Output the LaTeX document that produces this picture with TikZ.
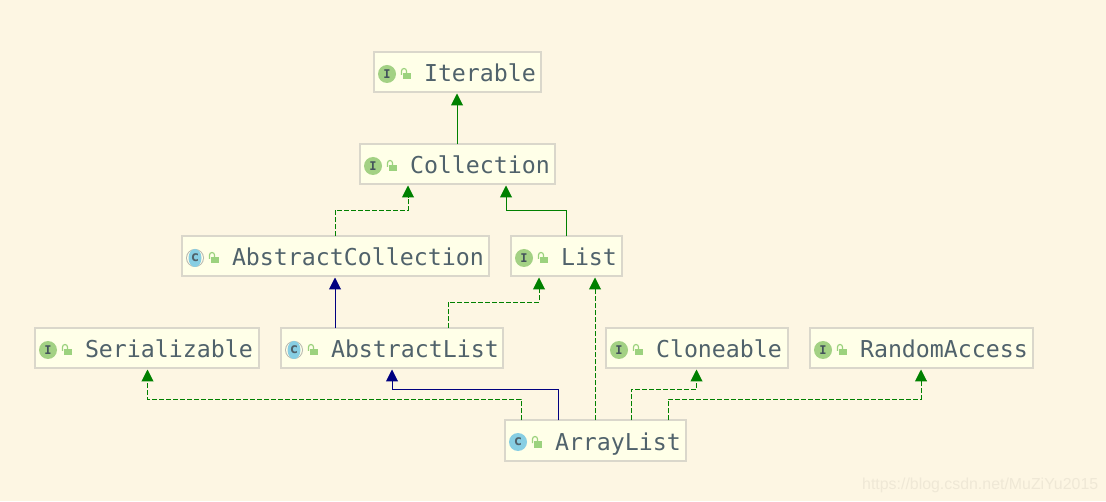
\documentclass[tikz,border=0pt]{standalone}
\usepackage{fontspec}
\setmonofont{DejaVu Sans Mono}
\setsansfont{Liberation Sans}
\usetikzlibrary{arrows.meta}
\definecolor{bgc}{HTML}{FDF6E3}
\definecolor{boxfill}{HTML}{FFFFE8}
\definecolor{boxline}{HTML}{DAD7CB}
\definecolor{txt}{HTML}{50626B}
\definecolor{igreen}{HTML}{A3D184}
\definecolor{lockg}{HTML}{9CD27E}
\definecolor{ccyan}{HTML}{87CEE3}
\definecolor{cgray}{HTML}{B8B8B0}
\definecolor{ared}{HTML}{008000}
\definecolor{anavy}{HTML}{000080}
\definecolor{wmark}{HTML}{EFE8D6}
\tikzset{
  x=1pt,y=1pt,
  umlbox/.style={draw=boxline,fill=boxfill,line width=2pt,inner sep=0pt,outer sep=0pt,minimum height=40pt},
  umltext/.style={anchor=base west,inner sep=0pt,text=txt,font=\ttfamily\fontsize{23.25}{24}\selectfont},
  icontext/.style={inner sep=0pt,text=txt!85!black,font=\ttfamily\bfseries\fontsize{12}{13}\selectfont},
  iconc/.style={inner sep=0pt,text=txt,font=\ttfamily\bfseries\fontsize{14}{15}\selectfont},
  tip/.style={-{Triangle[length=12pt,width=12pt]},shorten >=1pt},
  implline/.style={tip,color=ared,line width=1pt,dash pattern=on 5pt off 2pt},
  extline/.style={tip,color=ared,line width=1pt},
  classline/.style={tip,color=anavy,line width=1pt},
  darkline/.style={tip,color=ared,line width=1pt},
}
% name, left, top, right, kind (I/C/A), text  (y given from the top of the image)
\newcommand{\lockicon}[2]{%
  \fill[lockg] (#1+30,501-#2-21) rectangle (#1+38,501-#2-27.5);
  \draw[lockg,line width=1.2pt] (#1+28.5,501-#2-23) -- (#1+28.5,501-#2-19) arc[start angle=180,end angle=0,radius=2.5] -- (#1+33.5,501-#2-21);
}
\newcommand{\umlitem}[6]{%
  \node[umlbox,minimum width={(#4-#2-1)*1pt}] (#1) at ({(#2+#4)/2},{501-#3-20.5}) {};
  \ifx#5A
    \fill[cgray] (#2+14,501-#3-22) circle[radius=9];
    \fill[boxfill] (#2+14,501-#3-22) circle[radius=8];
    \fill[ccyan] (#2+14,501-#3-22) ellipse[x radius=6.5,y radius=9];
    \node[iconc] (#1icon) at (#2+14,501-#3-21.5) {c};
  \else\ifx#5C
    \fill[ccyan] (#2+14,501-#3-22) circle[radius=9];
    \node[iconc] (#1icon) at (#2+14,501-#3-21.5) {c};
  \else
    \fill[igreen] (#2+14,501-#3-22) circle[radius=9];
    \node[icontext] (#1icon) at (#2+14,501-#3-22) {I};
  \fi\fi
  \lockicon{#2}{#3}
  \node[umltext] (#1text) at (#2+50.8,501-#3-30) {#6};
}
\begin{document}
\begin{tikzpicture}
\useasboundingbox (0,0) rectangle (1106,501);
\fill[bgc] (0,0) rectangle (1106,501);

\umlitem{iterable}{373}{52}{541}{I}{Iterable}
\umlitem{collection}{359}{144}{555}{I}{Collection}
\umlitem{abscoll}{181}{236}{489}{A}{AbstractCollection}
\umlitem{list}{510}{236}{622}{I}{List}
\umlitem{serial}{34}{328}{259}{I}{Serializable}
\umlitem{abslist}{280}{328}{503}{A}{AbstractList}
\umlitem{clone}{605}{328}{788}{I}{Cloneable}
\umlitem{random}{809}{328}{1033}{I}{RandomAccess}
\umlitem{arraylist}{504}{420}{686}{C}{ArrayList}

\draw[darkline] (collection.north) -- (iterable.south);
\draw[implline] (abscoll.north) -- ++(0,26) -| ([xshift=-49pt]collection.south);
\draw[extline] (list.north) -- ++(0,26) -| ([xshift=49pt]collection.south);
\draw[classline] ([xshift=-56.5pt]abslist.north) -- (abscoll.south);
\draw[implline] ([xshift=56.5pt]abslist.north) -- ++(0,26) -| ([xshift=-27pt]list.south);
\draw[implline] ([xshift=-74pt]arraylist.north) -- ++(0,21) -| ([xshift=1pt]serial.south);
\draw[classline] ([xshift=-37pt]arraylist.north) -- ++(0,31) -| ([xshift=0.5pt]abslist.south);
\draw[implline] (arraylist.north) -- ([xshift=29pt]list.south);
\draw[implline] ([xshift=36pt]arraylist.north) -- ++(0,31) -| (clone.south);
\draw[implline] ([xshift=73pt]arraylist.north) -- ++(0,21) -| (random.south);

\node[anchor=base west,inner sep=0pt,text=wmark,font=\sffamily\fontsize{15.9}{18}\selectfont] (watermark) at (862,12) {https://blog.csdn.net/MuZiYu2015};
\end{tikzpicture}
\end{document}
